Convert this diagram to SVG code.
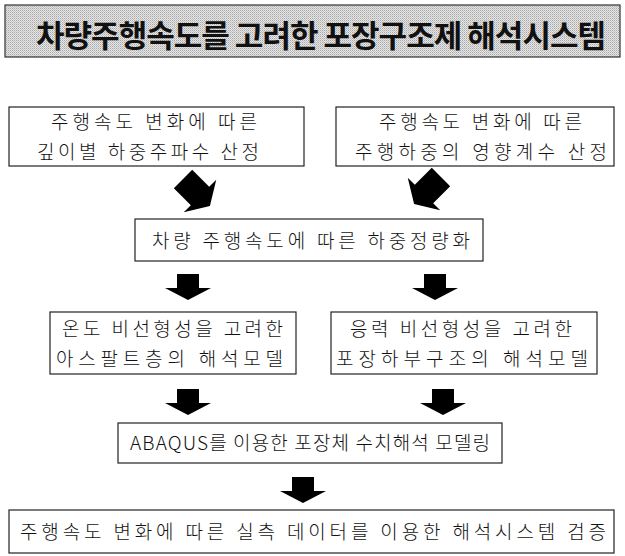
<svg xmlns="http://www.w3.org/2000/svg" width="625" height="556" viewBox="0 0 625 556">
<defs>
<pattern id="dots" width="2" height="2" patternUnits="userSpaceOnUse">
<rect width="2" height="2" fill="#e6e6e6"/>
<rect x="0" y="0" width="1" height="1" fill="#a8a8a8"/>
<rect x="1" y="1" width="1" height="1" fill="#c4c4c4"/>
</pattern>
<path id="darr" d="M-11,-14 H11 V0 H23 L0,12 L-23,0 H-11 Z"/>
<path id="dgarr" d="M-13,-24 H13 V0 H23 L0,14 L-23,0 H-13 Z"/>
</defs>
<style>
.box{fill:#fff;stroke:#222;stroke-width:1.2}
.t{font-family:"Noto Sans CJK KR","Liberation Sans",sans-serif;font-size:19px;font-weight:300;fill:#111}
.ti{font-family:"Noto Sans CJK KR","Liberation Sans",sans-serif;font-size:31px;font-weight:bold;fill:#111}
.arr{fill:#000}
</style>
<g id="title">
<rect x="5" y="5" width="615" height="52" fill="url(#dots)" stroke="#333" stroke-width="1.2"/>
<text class="ti" x="36" y="47" textLength="570" lengthAdjust="spacing">차량주행속도를  고려한 포장구조제 해석시스템</text>
</g>
<g id="n1">
<rect class="box" x="9" y="107" width="295" height="59"/>
<text class="t" x="51" y="129" textLength="206" lengthAdjust="spacing">주행속도 변화에 따른</text>
<text class="t" x="37" y="159" textLength="222" lengthAdjust="spacing">깊이별 하중주파수 산정</text>
</g>
<g id="n2">
<rect class="box" x="336" y="107" width="278" height="59"/>
<text class="t" x="379" y="129" textLength="203" lengthAdjust="spacing">주행속도 변화에 따른</text>
<text class="t" x="355" y="159" textLength="252" lengthAdjust="spacing">주행하중의 영향계수 산정</text>
</g>
<g id="n3">
<rect class="box" x="135" y="219" width="348" height="42"/>
<text class="t" x="152" y="248" textLength="318" lengthAdjust="spacing">차량 주행속도에 따른 하중정량화</text>
</g>
<g id="n4">
<rect class="box" x="50" y="312" width="246" height="62"/>
<text class="t" x="62" y="336" textLength="221" lengthAdjust="spacing">온도 비선형성을 고려한</text>
<text class="t" x="56" y="366" textLength="227" lengthAdjust="spacing">아스팔트층의 해석모델</text>
</g>
<g id="n5">
<rect class="box" x="331" y="312" width="266" height="62"/>
<text class="t" x="350" y="336" textLength="222" lengthAdjust="spacing">응력 비선형성을 고려한</text>
<text class="t" x="336" y="366" textLength="252" lengthAdjust="spacing">포장하부구조의 해석모델</text>
</g>
<g id="n6">
<rect class="box" x="118" y="423" width="384" height="40"/>
<text class="t" x="130" y="450" textLength="360" lengthAdjust="spacing">ABAQUS를 이용한 포장체 수치해석 모델링</text>
</g>
<g id="n7">
<rect class="box" x="9" y="510" width="605" height="43"/>
<text class="t" x="20" y="539" textLength="586" lengthAdjust="spacing">주행속도 변화에 따른 실측 데이터를 이용한 해석시스템 검증</text>
</g>
<g id="connectors" class="arr">
<use href="#dgarr" transform="translate(200,196) rotate(-45)"/>
<use href="#dgarr" transform="translate(424,194) rotate(45)"/>
<use href="#darr" transform="translate(188,288)"/>
<use href="#darr" transform="translate(435,288)"/>
<use href="#darr" transform="translate(188,403)"/>
<use href="#darr" transform="translate(443,403)"/>
<use href="#darr" transform="translate(303,491)"/>
</g>
</svg>
